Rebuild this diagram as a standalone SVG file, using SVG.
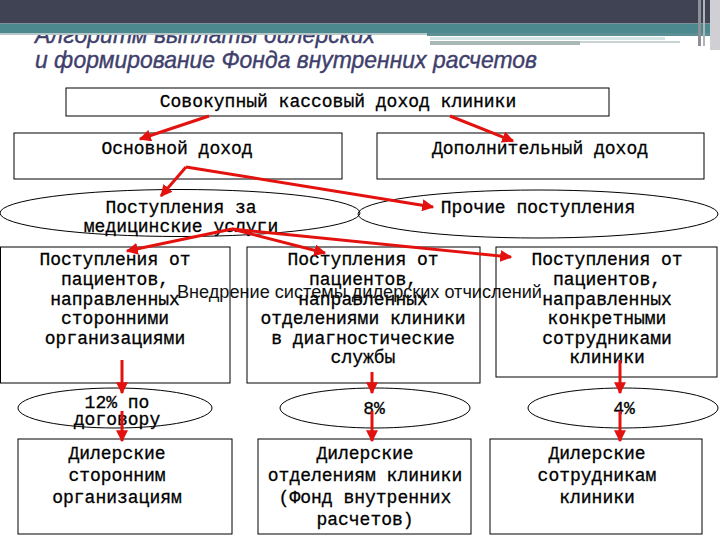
<svg xmlns="http://www.w3.org/2000/svg" width="720" height="540" viewBox="0 0 720 540">
<defs>
<marker id="ah" viewBox="0 0 10 10" refX="9" refY="5" markerWidth="4" markerHeight="4" markerUnits="strokeWidth" orient="auto">
<path d="M0,0 L10,5 L0,10 z" fill="#e3120f"/>
</marker>
<style>
.box{fill:#fff;stroke:#000;stroke-width:1}
.ell{fill:none;stroke:#000;stroke-width:1}
.t{font-family:"Liberation Mono","Courier New",monospace;font-size:18px;fill:#000;stroke:#000;stroke-width:0.3;text-anchor:middle}
.title{font-family:"Liberation Sans",Arial,sans-serif;font-style:italic;font-size:24px;fill:#3f3f6c;stroke:#3f3f6c;stroke-width:0.4}
.con{stroke:#e3120f;stroke-width:3;fill:none;marker-end:url(#ah)}
</style>
</defs>
<rect width="720" height="540" fill="#fff"/>
<g id="title">
<text class="title" x="35" y="43" textLength="340" lengthAdjust="spacingAndGlyphs">Алгоритм выплаты дилерских</text>
<text class="title" x="35" y="68" textLength="502" lengthAdjust="spacingAndGlyphs">и формирование Фонда внутренних расчетов</text>
</g>
<g id="header">
<rect x="0" y="0" width="720" height="23" fill="#3f4354"/>
<rect x="0" y="22" width="720" height="1.5" fill="#4a3f50"/>
<rect x="0" y="23.5" width="720" height="10" fill="#4b898e"/>
<rect x="0" y="33" width="427" height="2" fill="#b7c6c6"/>
<rect x="427" y="33" width="285" height="3" fill="#5c8f93"/>
<rect x="430" y="37" width="235" height="3" fill="#d4e3e3"/>
<rect x="430" y="41" width="150" height="4" fill="#a9b7b7"/>
<rect x="580" y="41" width="100" height="2" fill="#c8d4d4"/>
<rect x="698" y="0" width="3" height="46" fill="#8d9096"/>
<rect x="703" y="0" width="2" height="46" fill="#b0b3b8"/>
<rect x="710" y="0" width="10" height="50" fill="#d0d0d4"/>
</g>
<g id="n_total">
<rect class="box" x="66" y="88" width="543" height="28"/>
<text class="t" x="338" y="107">Совокупный кассовый доход клиники</text>
</g>
<g id="n_main">
<rect class="box" x="14" y="133" width="328" height="46"/>
<text class="t" x="177" y="154">Основной доход</text>
</g>
<g id="n_extra">
<rect class="box" x="377" y="133" width="327" height="46"/>
<text class="t" x="540" y="154">Дополнительный доход</text>
</g>
<g id="n_med">
<ellipse class="ell" cx="180" cy="213" rx="180" ry="23.5"/>
<text class="t" x="181" y="213">Поступления за</text>
<text class="t" x="181" y="232">медицинские услуги</text>
</g>
<g id="n_other">
<ellipse class="ell" cx="538" cy="214" rx="180" ry="24"/>
<text class="t" x="538" y="213">Прочие поступления</text>
</g>
<g id="n_a">
<rect class="box" x="0.5" y="247" width="229.5" height="136"/>
<text class="t" x="115" y="265">Поступления от</text>
<text class="t" x="115" y="285">пациентов,</text>
<text class="t" x="115" y="304.5">направленных</text>
<text class="t" x="115" y="324">сторонними</text>
<text class="t" x="115" y="343.5">организациями</text>
</g>
<g id="n_b">
<rect class="box" x="247" y="247" width="233" height="136"/>
<text class="t" x="363" y="265">Поступления от</text>
<text class="t" x="363" y="285">пациентов,</text>
<text class="t" x="363" y="304.5">направленных</text>
<text class="t" x="363" y="324">отделениями клиники</text>
<text class="t" x="363" y="343.5">в диагностические</text>
<text class="t" x="363" y="363">службы</text>
</g>
<g id="n_c">
<rect class="box" x="496" y="247" width="221" height="130"/>
<text class="t" x="607" y="265">Поступления от</text>
<text class="t" x="607" y="285">пациентов,</text>
<text class="t" x="607" y="304.5">направленных</text>
<text class="t" x="607" y="324">конкретными</text>
<text class="t" x="607" y="343.5">сотрудниками</text>
<text class="t" x="607" y="363">клиники</text>
</g>
<g id="n_pa">
<ellipse class="ell" cx="115" cy="408" rx="97" ry="20"/>
<text class="t" x="117" y="408">12% по</text>
<text class="t" x="117" y="425">договору</text>
</g>
<g id="n_pb">
<ellipse class="ell" cx="375" cy="408" rx="95" ry="20"/>
<text class="t" x="374" y="414">8%</text>
</g>
<g id="n_pc">
<ellipse class="ell" cx="623" cy="408" rx="95" ry="20"/>
<text class="t" x="624" y="414">4%</text>
</g>
<g id="n_da">
<rect class="box" x="18" y="439" width="214" height="95"/>
<text class="t" x="117" y="459">Дилерские</text>
<text class="t" x="117" y="481">сторонним</text>
<text class="t" x="117" y="503">организациям</text>
</g>
<g id="n_db">
<rect class="box" x="258" y="439" width="213" height="95"/>
<text class="t" x="365" y="459">Дилерские</text>
<text class="t" x="365" y="481">отделениям клиники</text>
<text class="t" x="365" y="503">(Фонд внутренних</text>
<text class="t" x="365" y="525">расчетов)</text>
</g>
<g id="n_dc">
<rect class="box" x="490" y="439" width="212" height="95"/>
<text class="t" x="597" y="459">Дилерские</text>
<text class="t" x="597" y="481">сотрудникам</text>
<text class="t" x="597" y="503">клиники</text>
</g>
<g id="connectors">
<line class="con" x1="209" y1="116" x2="140" y2="139"/>
<line class="con" x1="450" y1="116" x2="513" y2="141"/>
<line class="con" x1="186" y1="167" x2="161" y2="196"/>
<line class="con" x1="186" y1="167" x2="433" y2="207"/>
<line class="con" x1="232" y1="229" x2="127" y2="251"/>
<line class="con" x1="232" y1="229" x2="325" y2="253"/>
<line class="con" x1="232" y1="229" x2="511" y2="257"/>
<line class="con" x1="122" y1="360" x2="122" y2="393"/>
<line class="con" x1="122" y1="411" x2="122" y2="441"/>
<line class="con" x1="372" y1="372" x2="372" y2="393"/>
<line class="con" x1="372" y1="411" x2="372" y2="441"/>
<line class="con" x1="620" y1="360" x2="620" y2="393"/>
<line class="con" x1="620" y1="411" x2="620" y2="441"/>
</g>
<g id="overlay">
<text x="177" y="298" textLength="365" lengthAdjust="spacingAndGlyphs" style="font-family:'Liberation Sans',Arial,sans-serif;font-size:18px;fill:#111">Внедрение системы дилерских отчислений</text>
</g>
</svg>
